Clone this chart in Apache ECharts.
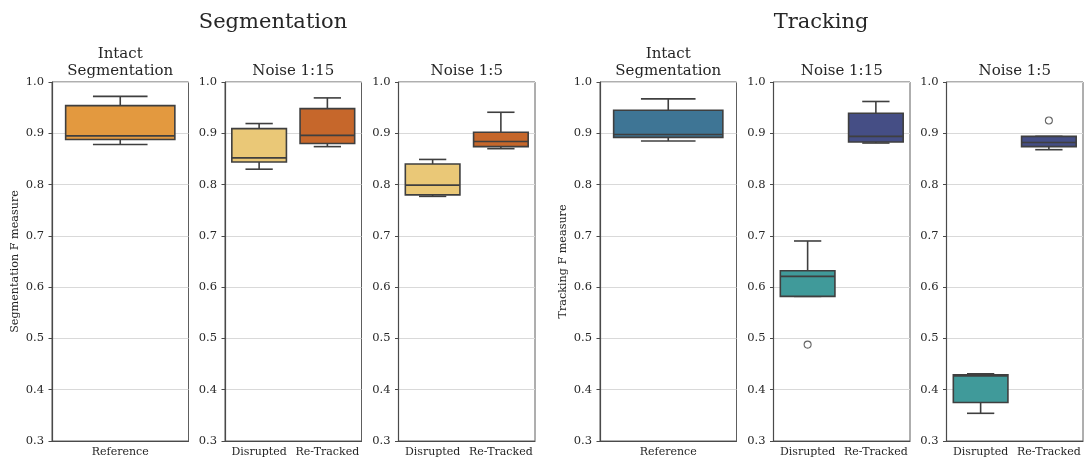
<!DOCTYPE html>
<html>
<head>
<meta charset="utf-8">
<script src="https://cdn.jsdelivr.net/npm/echarts@6/dist/echarts.min.js"></script>
<style>
  html, body { margin: 0; padding: 0; background: #fff; }
  #chart { width: 1084px; height: 461px; }
</style>
</head>
<body>
<div id="chart"></div>
<script>
// ---- data ----
const groupTitles = ['Segmentation', 'Tracking'];
const yAxisNames = ['Segmentation F measure', 'Tracking F measure'];
const panelTitles = ['Intact\nSegmentation', 'Noise 1:15', 'Noise 1:5'];
const intactCategories = ['Reference'];
const noiseCategories = ['Disrupted', 'Re-Tracked'];

// five-number summaries: [lower whisker, Q1, median, Q3, upper whisker]
const segIntact   = [[0.878, 0.888, 0.895, 0.954, 0.972]];
const segNoise15  = [[0.830, 0.844, 0.852, 0.909, 0.919], [0.874, 0.880, 0.896, 0.948, 0.969]];
const segNoise5   = [[0.777, 0.780, 0.799, 0.840, 0.849], [0.870, 0.874, 0.884, 0.902, 0.941]];
const trkIntact   = [[0.885, 0.892, 0.8975, 0.945, 0.967]];
const trkNoise15  = [[0.582, 0.582, 0.621, 0.632, 0.690], [0.881, 0.883, 0.894, 0.939, 0.962]];
const trkNoise5   = [[0.354, 0.375, 0.427, 0.429, 0.431], [0.868, 0.874, 0.882, 0.894, 0.894]];

// points beyond the whiskers: [category, value]
const trkNoise15Outliers = [['Disrupted', 0.488]];
const trkNoise5Outliers  = [['Re-Tracked', 0.925]];

const yMin = 0.3, yMax = 1.0, yStep = 0.1;

// ---- styling ----
const FONT = '"DejaVu Serif", serif';
const TEXT = '#262626';
const LINE = '#3f3f3f';
const segColors = { intact: ['#e3993f'], noise: ['#eac877', '#c6672b'] };
const trkColors = { intact: ['#3e7595'], noise: ['#409a9a', '#454e85'] };

const panels = [
  { cats: intactCategories, boxes: segIntact,  colors: segColors.intact, outliers: [] },
  { cats: noiseCategories,  boxes: segNoise15, colors: segColors.noise,  outliers: [] },
  { cats: noiseCategories,  boxes: segNoise5,  colors: segColors.noise,  outliers: [] },
  { cats: intactCategories, boxes: trkIntact,  colors: trkColors.intact, outliers: [] },
  { cats: noiseCategories,  boxes: trkNoise15, colors: trkColors.noise,  outliers: trkNoise15Outliers },
  { cats: noiseCategories,  boxes: trkNoise5,  colors: trkColors.noise,  outliers: trkNoise5Outliers }
];

const gridLefts = [52, 225, 398.5, 600, 773.5, 946.5];
const gridWidth = 136.5, gridTop = 82, gridHeight = 359;

// box with half-width whisker caps, drawn in axis coordinates
function renderBox(params, api) {
  const x = api.value(0);
  const lo = api.coord([x, api.value(1)]);
  const q1 = api.coord([x, api.value(2)]);
  const md = api.coord([x, api.value(3)]);
  const q3 = api.coord([x, api.value(4)]);
  const hi = api.coord([x, api.value(5)]);
  const band = api.size([1, 0])[0];
  const bw = band * 0.8, cw = band * 0.4;
  const cx = md[0];
  const fill = api.visual('color');
  const ls = { stroke: LINE, lineWidth: 1.6 };
  const line = (x1, y1, x2, y2) => ({ type: 'line', shape: { x1, y1, x2, y2 }, style: ls });
  return {
    type: 'group',
    children: [
      line(cx, hi[1], cx, q3[1]),
      line(cx, q1[1], cx, lo[1]),
      line(cx - cw / 2, hi[1], cx + cw / 2, hi[1]),
      line(cx - cw / 2, lo[1], cx + cw / 2, lo[1]),
      { type: 'rect', shape: { x: cx - bw / 2, y: q3[1], width: bw, height: q1[1] - q3[1] },
        style: { fill, stroke: LINE, lineWidth: 1.6 } },
      line(cx - bw / 2, md[1], cx + bw / 2, md[1])
    ]
  };
}

const grids = [], xAxes = [], yAxes = [], series = [];
panels.forEach((p, i) => {
  grids.push({ left: gridLefts[i], top: gridTop, width: gridWidth, height: gridHeight,
               show: true, borderColor: '#5e5e5e', borderWidth: 1, backgroundColor: '#fff' });
  xAxes.push({
    type: 'category', gridIndex: i, data: p.cats,
    axisLine: { lineStyle: { color: '#4a4a4a', width: 1.2 } },
    axisTick: { alignWithLabel: true, length: 3.5, lineStyle: { color: '#4a4a4a' } },
    axisLabel: { color: TEXT, fontFamily: FONT, fontSize: 11, margin: 6, interval: 0 },
    splitLine: { show: false }
  });
  yAxes.push({
    type: 'value', gridIndex: i, min: yMin, max: yMax, interval: yStep,
    name: (i === 0 ? yAxisNames[0] : i === 3 ? yAxisNames[1] : ''),
    nameLocation: 'middle', nameGap: 31,
    nameTextStyle: { color: TEXT, fontFamily: FONT, fontSize: 11.2 },
    axisLine: { show: true, lineStyle: { color: '#4a4a4a', width: 1.2 } },
    axisTick: { show: true, length: 3.5, lineStyle: { color: '#4a4a4a' } },
    axisLabel: { color: TEXT, fontFamily: FONT, fontSize: 11.5, margin: 8,
                 formatter: v => v.toFixed(1) },
    splitLine: { show: true, lineStyle: { color: '#d9d9d9', width: 1 } }
  });
  series.push({
    type: 'custom', xAxisIndex: i, yAxisIndex: i,
    renderItem: renderBox,
    encode: { x: 0, y: [1, 2, 3, 4, 5] },
    data: p.boxes.map((b, k) => ({ value: [k, ...b], itemStyle: { color: p.colors[k] } })),
    silent: true, z: 2
  });
  if (p.outliers.length) {
    series.push({
      type: 'scatter', xAxisIndex: i, yAxisIndex: i,
      data: p.outliers, symbol: 'circle', symbolSize: 7,
      itemStyle: { color: 'rgba(0,0,0,0)', borderColor: LINE, borderWidth: 1.1 },
      silent: true, z: 3
    });
  }
});

// headings
const titleText = (text, x, y, size) => ({
  type: 'text', x, y,
  style: { text, fill: TEXT, font: `${size}px ${FONT}`, align: 'center',
           verticalAlign: 'middle', lineHeight: Math.round(size * 1.1) }
});
const graphics = [
  titleText(groupTitles[0], 273, 23, 21),
  titleText(groupTitles[1], 821, 23, 21)
];
panels.forEach((p, i) => {
  const cx = gridLefts[i] + gridWidth / 2;
  const t = panelTitles[i % 3];
  graphics.push(titleText(t, cx, t.includes('\n') ? 63 : 71, 15));
});

const chart = echarts.init(document.getElementById('chart'), null, { renderer: 'canvas' });
chart.setOption({
  animation: false,
  backgroundColor: '#fff',
  grid: grids, xAxis: xAxes, yAxis: yAxes, series,
  graphic: graphics
});
</script>
</body>
</html>
